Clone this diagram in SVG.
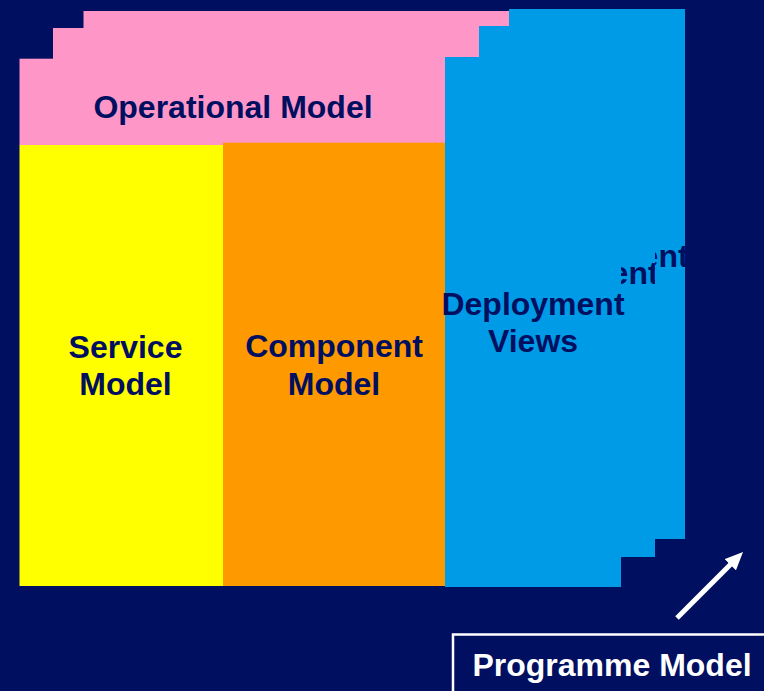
<svg xmlns="http://www.w3.org/2000/svg" width="764" height="691" viewBox="0 0 764 691">
<style>
.t{font-family:"Liberation Sans",Arial,sans-serif;font-weight:bold;font-size:32px;fill:#000F5F;text-anchor:middle}
.e{text-anchor:end}
.w{fill:#FFFFFF}
.pink{fill:#FF96C8}
.blue{fill:#009BE6}
</style>
<defs>
<marker id="ah" markerUnits="userSpaceOnUse" markerWidth="18" markerHeight="16" refX="2" refY="8" orient="auto" viewBox="0 0 18 16">
<path d="M0,0 L18,8 L0,16 z" fill="#FFFFFF"/>
</marker>
<clipPath id="cb"><rect x="655" y="9" width="30" height="530"/></clipPath>
<clipPath id="cm"><rect x="621" y="26" width="34" height="531"/></clipPath>
</defs>
<rect width="764" height="691" fill="#000F5F"/>
<g id="operational-back2"><rect class="pink" x="83.5" y="11" width="425.5" height="120"/></g>
<g id="operational-back1"><rect class="pink" x="53" y="28" width="426" height="110"/></g>
<g id="deployment-back2">
<rect class="blue" x="509" y="9" width="176" height="530"/>
<text class="t e" x="688.6" y="267" clip-path="url(#cb)">ent</text>
</g>
<g id="deployment-back1">
<rect class="blue" x="479" y="26" width="176" height="531"/>
<text class="t e" x="658.6" y="284" clip-path="url(#cm)">ent</text>
</g>
<g id="operational-model">
<rect class="pink" x="19.5" y="58.7" width="425.5" height="86.3"/>
<text class="t" x="233" y="118">Operational Model</text>
</g>
<g id="service-model">
<rect x="19.5" y="145" width="203.5" height="441" fill="#FFFF00"/>
<text class="t" x="125.5" y="358">Service</text>
<text class="t" x="125.5" y="395">Model</text>
</g>
<g id="component-model">
<rect x="223" y="142.7" width="222" height="443.3" fill="#FF9900"/>
<text class="t" x="334" y="357">Component</text>
<text class="t" x="334" y="395">Model</text>
</g>
<g id="deployment-views">
<rect class="blue" x="445" y="57" width="176" height="530"/>
<text class="t" x="533" y="315">Deployment</text>
<text class="t" x="533" y="352">Views</text>
</g>
<g id="connectors">
<line x1="677" y1="618" x2="731.7" y2="563.3" stroke="#FFFFFF" stroke-width="5" marker-end="url(#ah)"/>
</g>
<g id="programme-model">
<rect x="453" y="634.5" width="320" height="70" fill="none" stroke="#FFFFFF" stroke-width="2.5"/>
<text class="t w" x="612" y="676">Programme Model</text>
</g>
</svg>
